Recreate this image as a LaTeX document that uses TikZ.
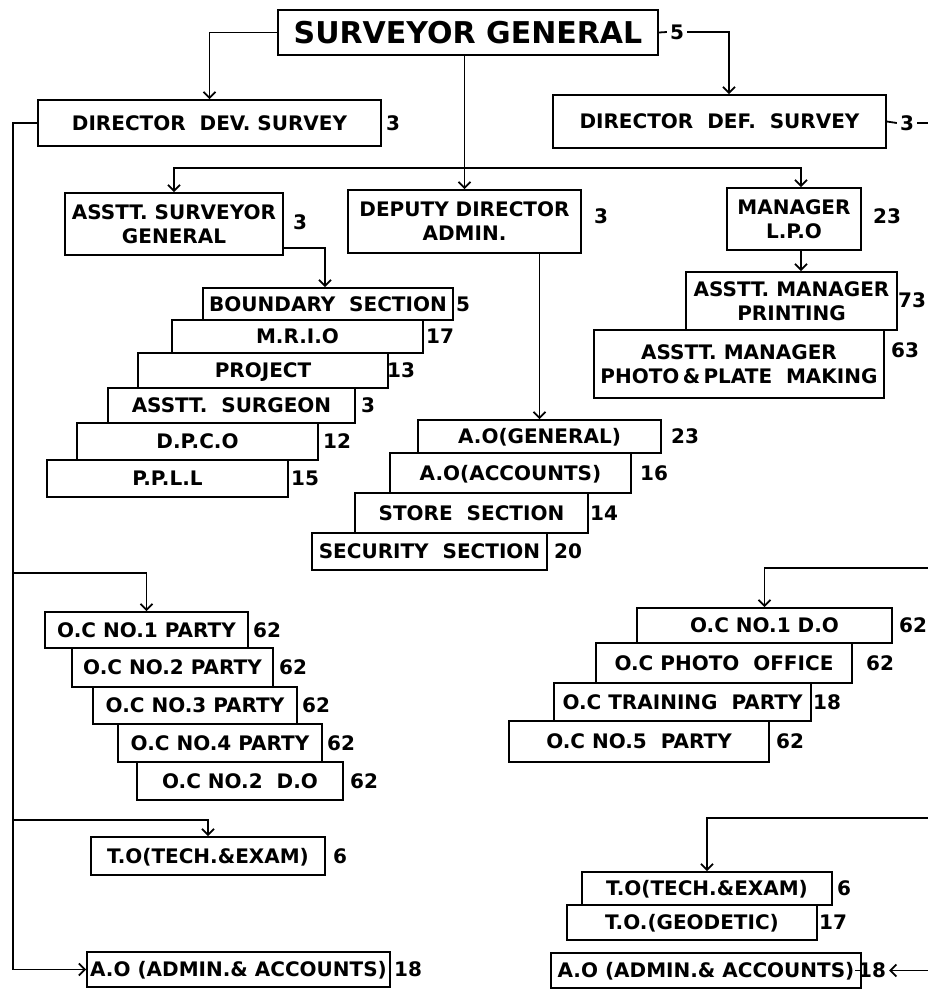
\documentclass[tikz,border=0pt]{standalone}
\usepackage{fontspec}
\setmainfont{DejaVu Sans}
\usetikzlibrary{positioning, arrows.meta}

\tikzset{
  box/.style={draw, line width=1.8pt, inner sep=0pt, align=center,
    font=\bfseries\fontsize{20}{24}\selectfont},
  one/.style={text height=14.6pt, text depth=0pt},
  num/.style={inner sep=3pt, text height=14.6pt, text depth=0pt,
    font=\bfseries\fontsize{20}{24}\selectfont},
  conn/.style={line width=1.8pt, -{Straight Barb[length=6pt,width=12pt]}},
  link/.style={line width=1.8pt},
}

\begin{document}
\begin{tikzpicture}[x=1pt, y=-1pt]
  \useasboundingbox (0,0) rectangle (928,989);

  % top level
  \node[box, minimum width=380pt, minimum height=45pt, text height=21.9pt, text depth=0pt,
    font=\bfseries\fontsize{30}{34}\selectfont] (sg) at (468,32.5) {SURVEYOR GENERAL};
  \node[num] (sg-n) at (677,32) {5};
  \node[box, one, minimum width=343pt, minimum height=46pt] (dds) at (209.5,123) {DIRECTOR\ \ DEV. SURVEY};
  \node[num] (dds-n) at (393,123) {3};
  \node[box, one, minimum width=333pt, minimum height=53pt] (ddf) at (719.5,121.5) {DIRECTOR\ \ DEF.\ \ SURVEY};
  \node[num] (ddf-n) at (907,123) {3};

  % second row
  \node[box, minimum width=218pt, minimum height=62pt] (asg) at (174,224) {ASSTT. SURVEYOR\\GENERAL};
  \node[num] (asg-n) at (300,222) {3};
  \node[box, minimum width=233pt, minimum height=63pt] (dda) at (464.5,221.5) {DEPUTY DIRECTOR\\ADMIN.};
  \node[num] (dda-n) at (601,216) {3};
  \node[box, minimum width=134pt, minimum height=62pt] (mgr) at (794,219) {MANAGER\\L.P.O};
  \node[num] (mgr-n) at (887,216) {23};
  \node[box, minimum width=211pt, minimum height=58pt] (amp) at (791.5,301) {ASSTT. MANAGER\\PRINTING};
  \node[num] (amp-n) at (912,300) {73};
  \node[box, minimum width=290pt, minimum height=68pt] (ampp) at (739,364) {ASSTT. MANAGER\\PHOTO\,\&\,PLATE\ \ MAKING};
  \node[num] (ampp-n) at (905,350) {63};

  % stepped sections
  \foreach \id/\cx/\cy/\w/\h/\txt/\nx/\nr in
      {bs/328/304/250/32/BOUNDARY\ \ SECTION/463/5,
       mrio/297.5/336.5/251/33/M.R.I.O/440/17,
       proj/263/370.5/250/35/PROJECT/401/13,
       asur/231.5/405.5/247/35/ASSTT.\ \ SURGEON/368/3,
       dpco/197.5/441.5/241/37/D.P.C.O/337/12,
       ppll/167.5/478.5/241/37/P.P.L.L/305/15,
       aog/539.5/436.5/243/33/A.O(GENERAL)/685/23,
       aoa/510.5/473/241/40/A.O(ACCOUNTS)/654/16,
       store/471.5/513/233/40/STORE\ \ SECTION/604/14,
       sec/429.5/551.5/235/37/SECURITY\ \ SECTION/568/20,
       oc1p/146.5/630/203/36/O.C NO.1 PARTY/267/62,
       oc2p/172.5/667.5/201/39/O.C NO.2 PARTY/293/62,
       oc3p/195/705.5/204/37/O.C NO.3 PARTY/316/62,
       oc4p/220/743/204/38/O.C NO.4 PARTY/341/62,
       oc2do/240/781/206/38/O.C NO.2\ \ D.O/364/62,
       oc1do/764.5/625.5/255/35/O.C NO.1 D.O/913/62,
       ocpo/724/663/256/40/O.C PHOTO\ \ OFFICE/880/62,
       octp/682.5/702/257/38/O.C TRAINING\ \ PARTY/827/18,
       oc5p/639/741.5/260/41/O.C NO.5\ \ PARTY/790/62,
       tol/208/856/234/38/T.O(TECH.\&EXAM)/340/6,
       aol/238.5/969.5/303/35/A.O (ADMIN.\& ACCOUNTS)/408/18,
       tor/707/888.5/250/33/T.O(TECH.\&EXAM)/844/6,
       tog/692/922.5/250/35/T.O.(GEODETIC)/833/17,
       aor/706/970.5/310/35/A.O (ADMIN.\& ACCOUNTS)/872/18}
  {
    \node[box, one, minimum width=\w pt, minimum height=\h pt] (\id) at (\cx,\cy) {\txt};
    \node[num] (\id-n) at (\nx,\cy) {\nr};
  }

  % turning points
  \coordinate (hub) at (464.5,168);
  \coordinate (mgrx) at (801,0);
  \coordinate (ddfx) at (729,0);
  \coordinate (spt) at (13,123);
  \coordinate (sp1) at (13,573);
  \coordinate (sp2) at (13,820);
  \coordinate (east1) at (928,123);
  \coordinate (east2) at (928,568);
  \coordinate (east3) at (928,818);
  \coordinate (east4) at (928,970.5);

  % connectors from the top
  \draw[conn] (sg.west) -| (dds.north);
  \draw[conn] (sg.south -| dda.north) -- (dda.north);
  \draw[conn] (hub) -| (asg.north);
  \draw[conn] (hub) -| (mgrx |- mgr.north);
  \draw[link] (sg.east) -- (sg-n.west);
  \draw[conn] (sg-n.east) -| (ddfx |- ddf.north);
  \draw[link] (ddf.east) -- (ddf-n.west);
  \draw[link] (ddf-n.east) -- (east1);

  % second row down
  \draw[conn] ([yshift=8pt]asg.south east) -| ([xshift=-3pt]bs.north);
  \draw[conn] (dda.south -| aog.north) -- (aog.north);
  \draw[conn] (mgrx |- mgr.south) -- (mgrx |- amp.north);

  % dev survey side
  \draw[conn] (dds.west) -- (spt) |- (aol.west);
  \draw[conn] (sp1) -| (oc1p.north);
  \draw[conn] (sp2) -| (tol.north);

  % def survey side
  \draw[conn] (east2) -| (oc1do.north);
  \draw[conn] (east3) -| (tor.north);
  \draw[link] (aor.east) -- (aor-n.west);
  \draw[conn] (east4) -- (aor-n.east);
\end{tikzpicture}
\end{document}
